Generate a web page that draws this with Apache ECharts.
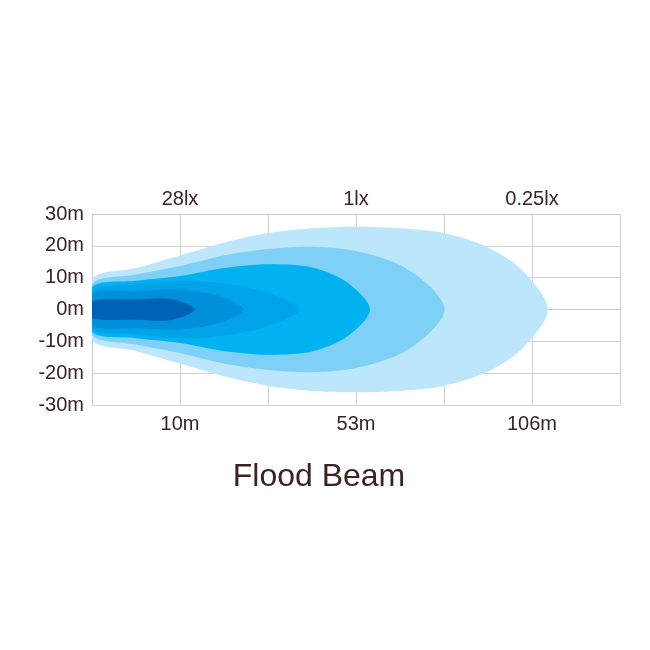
<!DOCTYPE html>
<html>
<head>
<meta charset="utf-8">
<script src="https://cdn.jsdelivr.net/npm/echarts@6/dist/echarts.min.js"></script>
<style>html,body{margin:0;background:#fff}#c{width:650px;height:650px}</style>
</head>
<body>
<div id="c"></div>
<script>
// x in grid columns (0..6), y = half width of the beam in metres (upper edge, mirrored below)
var distLabels = {1: '10m', 3: '53m', 5: '106m'};
var luxLabels = {1: '28lx', 3: '1lx', 5: '0.25lx'};
var yTicks = [-30, -20, -10, 0, 10, 20, 30];

var beam1 = [[0, 9.5], [0.5, 13], [1, 17], [1.5, 21], [2, 24], [2.5, 25.5], [3, 26], [3.5, 25.5], [4, 24], [4.5, 19.5], [4.9, 12], [5.18, 0]];
var beam2 = [[0, 8], [0.5, 11], [1, 13.7], [1.5, 17], [2, 19], [2.5, 19.7], [3, 18.4], [3.5, 14], [3.85, 7], [4.01, 0]];
var beam3 = [[0, 7], [0.5, 9], [1, 10.5], [1.5, 13], [2, 14.2], [2.5, 13.2], [2.9, 8.5], [3.16, 0]];
var beam4 = [[0, 6], [0.5, 7.8], [1, 9], [1.5, 8.2], [2, 5.2], [2.36, 0]];
var beam5 = [[0, 5], [0.5, 5.8], [1, 6.3], [1.45, 4.2], [1.72, 0]];
var beam6 = [[0, 2.6], [0.5, 3.2], [0.9, 3.3], [1.17, 0]];

var beams = [beam1, beam2, beam3, beam4, beam5, beam6];
var colors = ['#bce6fb', '#7fd0f7', '#00b3f0', '#00a2e8', '#0090da', '#0062b6'];

var series = beams.map(function (pts, k) {
    return {
        type: 'custom',
        data: pts,
        z: 2 + k,
        renderItem: function (params, api) {
            if (params.dataIndex !== 0) return;
            var top = pts.map(function (p) { return api.coord([p[0], p[1]]); });
            var bottom = pts.slice(0, -1).reverse().map(function (p) { return api.coord([p[0], -p[1]]); });
            return {
                type: 'polygon',
                shape: { points: top.concat(bottom), smooth: 0.3 },
                style: { fill: colors[k] },
                clipPath: {
                    type: 'rect',
                    shape: { x: params.coordSys.x, y: params.coordSys.y, width: params.coordSys.width, height: params.coordSys.height }
                }
            };
        }
    };
});

var txt = { color: '#3b2323', fontSize: 20, fontFamily: 'Liberation Sans' };
var line = { show: true, lineStyle: { color: '#c9c9c9' } };

var chart = echarts.init(document.getElementById('c'));
chart.setOption({
    animation: false,
    title: {
        text: 'Flood Beam', left: 314, top: 456, textAlign: 'center',
        textStyle: { color: '#3b2323', fontSize: 32, fontWeight: 'normal', fontFamily: 'Liberation Sans' }
    },
    grid: { left: 92, right: 30, top: 214, bottom: 245 },
    xAxis: [{
        type: 'value', min: 0, max: 6, interval: 1, position: 'bottom',
        axisLine: line, axisTick: { show: false },
        splitLine: { show: true, lineStyle: { color: '#d2d2d2' } },
        axisLabel: Object.assign({ margin: 9, formatter: function (v) { return distLabels[v] || ''; } }, txt)
    }, {
        type: 'value', min: 0, max: 6, interval: 1, position: 'top',
        axisLine: line, axisTick: { show: false }, splitLine: { show: false },
        axisLabel: Object.assign({ margin: 5, formatter: function (v) { return luxLabels[v] || ''; } }, txt)
    }],
    yAxis: {
        type: 'value', min: yTicks[0], max: yTicks[yTicks.length - 1], interval: 10,
        axisLine: line, axisTick: { show: false },
        splitLine: { show: true, lineStyle: { color: '#d2d2d2' } },
        axisLabel: Object.assign({ margin: 8, formatter: '{value}m' }, txt)
    },
    series: series
});
</script>
</body>
</html>
